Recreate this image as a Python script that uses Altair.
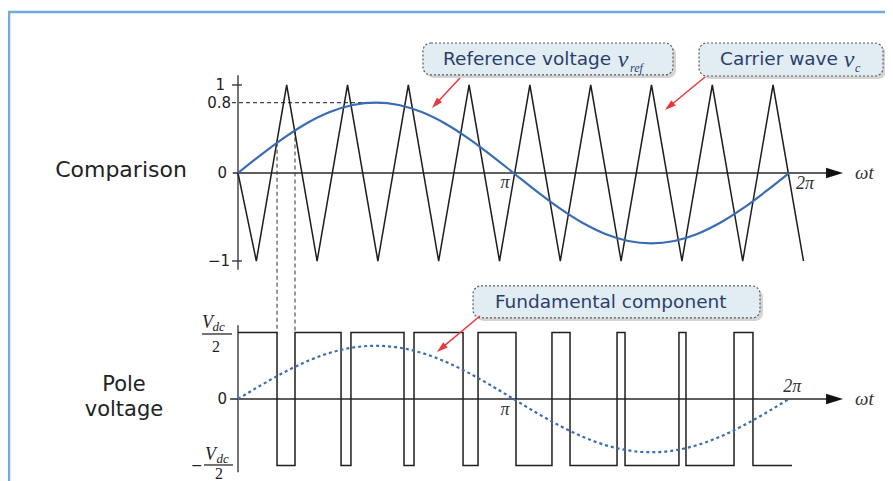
import math
import altair as alt
import pandas as pd

# ---------------- values ----------------
# carrier wave vertices: omega*t (rad) and value (p.u.)
carrier_t = [0.0, 0.209, 0.555, 0.902, 1.249, 1.595, 1.942, 2.288, 2.635, 2.982,
             3.328, 3.675, 4.022, 4.368, 4.715, 5.062, 5.408, 5.755, 6.101, 6.448]
carrier_v = [0, -1, 1, -1, 1, -1, 1, -1, 1, -1, 1, -1, 1, -1, 1, -1, 1, -1, 1, -1]

# reference voltage samples (p.u.)
ref_t = [0.0, 0.262, 0.524, 0.785, 1.047, 1.309, 1.571, 1.833, 2.094, 2.356, 2.618,
         2.880, 3.142, 3.403, 3.665, 3.927, 4.189, 4.451, 4.712, 4.974, 5.236,
         5.498, 5.760, 6.021, 6.283]
ref_v = [0.0, 0.207, 0.4, 0.566, 0.693, 0.773, 0.8, 0.773, 0.693, 0.566, 0.4,
         0.207, 0.0, -0.207, -0.4, -0.566, -0.693, -0.773, -0.8, -0.773, -0.693,
         -0.566, -0.4, -0.207, 0.0]

# pole voltage switching instants (rad) and levels (in Vdc/2)
pole_t = [0.0, 0.445, 0.650, 1.175, 1.288, 1.893, 2.007, 2.566, 2.737, 3.170,
          3.580, 3.786, 4.322, 4.413, 5.028, 5.108, 5.656, 5.872, 6.317]
pole_v = [1, -1, 1, -1, 1, -1, 1, -1, 1, -1, 1, -1, 1, -1, 1, -1, 1, -1, -1]

# fundamental component of the pole voltage (in Vdc/2)
fund_v = [0.0, 0.207, 0.4, 0.566, 0.693, 0.773, 0.8, 0.773, 0.693, 0.566, 0.4,
          0.207, 0.0, -0.207, -0.4, -0.566, -0.693, -0.773, -0.8, -0.773, -0.693,
          -0.566, -0.4, -0.207, 0.0]

# first two crossings of reference and carrier (projected to the pole voltage)
cross_t = [0.445, 0.650]
cross_v = [0.344, 0.484]

# ---------------- layout (shared diagram scale) ----------------
W, H = 877, 473
XMIN, XMAX = -2.6226, 7.3774          # omega*t axis
YMIN, YMAX = -3.5, 1.875              # upper panel units
PXX = W / (XMAX - XMIN)
PXY = H / (YMAX - YMIN)
BOT_OFF, BOT_GAIN = -2.568, 0.756     # lower panel placement


def low(b):
    return BOT_OFF + BOT_GAIN * b


xs = alt.Scale(domain=[XMIN, XMAX], nice=False, zero=False)
ys = alt.Scale(domain=[YMIN, YMAX], nice=False, zero=False)
X = alt.X("x:Q", scale=xs, axis=None)
Y = alt.Y("y:Q", scale=ys, axis=None)
X2 = alt.X2("x2:Q")
Y2 = alt.Y2("y2:Q")

layers = []


def rules(rows, **props):
    df = pd.DataFrame(rows, columns=["x", "y", "x2", "y2"])
    return alt.Chart(df).mark_rule(**props).encode(x=X, y=Y, x2=X2, y2=Y2)


def texts(rows, **props):
    df = pd.DataFrame(rows, columns=["x", "y", "text"])
    return alt.Chart(df).mark_text(**props).encode(x=X, y=Y, text="text:N")


# frame of the figure
layers.append(rules([[XMIN, 1.830, XMAX, 1.830], [-2.611, 1.830, -2.611, YMIN]],
                    color="#74a9dc", strokeWidth=2.5))

# axes
axis_rows = [
    [-0.06, 0, 6.75, 0], [0, -1.10, 0, 1.11],
    [-0.068, 1, 0.045, 1], [-0.068, -1, 0.045, -1],
    [-0.09, low(0), 6.75, low(0)], [0, low(-1.10), 0, low(1.11)],
    [-0.410, low(0.977), -0.068, low(0.977)], [-0.388, low(-0.992), -0.057, low(-0.992)],
]
layers.append(rules(axis_rows, color="#2a2a2a", strokeWidth=1.3))

# dashed guide lines
dash_rows = [[-0.068, 0.8, 1.571, 0.8]]
for t, v in zip(cross_t, cross_v):
    dash_rows.append([t, v, t, low(1)])
layers.append(rules(dash_rows, color="#444444", strokeWidth=1.1, strokeDash=[4, 3]))

# carrier wave
car_df = pd.DataFrame({"x": carrier_t, "y": carrier_v, "o": range(len(carrier_t))})
layers.append(alt.Chart(car_df).mark_line(color="#1e1e1e", strokeWidth=1.5)
              .encode(x=X, y=Y, order="o:Q"))

# reference voltage
ref_df = pd.DataFrame({"x": ref_t, "y": ref_v, "o": range(len(ref_t))})
layers.append(alt.Chart(ref_df).mark_line(color="#3a6cb3", strokeWidth=2.2,
                                          interpolate="monotone")
              .encode(x=X, y=Y, order="o:Q"))

# pole voltage
pole_df = pd.DataFrame({"x": pole_t, "y": [low(v) for v in pole_v],
                        "o": range(len(pole_t))})
layers.append(alt.Chart(pole_df).mark_line(color="#1e1e1e", strokeWidth=1.5,
                                           interpolate="step-after")
              .encode(x=X, y=Y, order="o:Q"))

# fundamental component
fund_df = pd.DataFrame({"x": ref_t, "y": [low(v) for v in fund_v], "o": range(len(ref_t))})
layers.append(alt.Chart(fund_df).mark_line(color="#3a6cb3", strokeWidth=2.2,
                                           strokeDash=[3, 3], interpolate="monotone")
              .encode(x=X, y=Y, order="o:Q"))

# callout boxes (shadow + box)
boxes = [
    [2.109, 1.114, 4.960, 1.477],
    [5.257, 1.102, 7.355, 1.477],
    [2.680, low(1.218), 5.952, low(1.699)],
]
shadow = [[b[0] + 3 / PXX, b[1] - 3 / PXY, b[2] + 3 / PXX, b[3] - 3 / PXY] for b in boxes]
layers.append(alt.Chart(pd.DataFrame(shadow, columns=["x", "y", "x2", "y2"]))
              .mark_rect(color="#c9c9c9", cornerRadius=8, opacity=0.8)
              .encode(x=X, y=Y, x2=X2, y2=Y2))
layers.append(alt.Chart(pd.DataFrame(boxes, columns=["x", "y", "x2", "y2"]))
              .mark_rect(fill="#e1edf3", stroke="#5a5a5a", strokeWidth=1.2,
                         strokeDash=[2, 2], cornerRadius=8)
              .encode(x=X, y=Y, x2=X2, y2=Y2))

# red callout arrows
arrows = [
    [2.531, 1.080, 2.212, 0.739],
    [5.325, 1.091, 4.869, 0.716],
    [2.759, low(1.248), 2.269, low(0.707)],
]
HEAD = 11
shaft_rows, head_rows = [], []
for x0, y0, x1, y1 in arrows:
    dx, dy = (x1 - x0) * PXX, -(y1 - y0) * PXY
    L = math.hypot(dx, dy)
    ux, uy = dx / L, dy / L
    ang = math.degrees(math.atan2(ux, -uy)) % 360
    cx = x1 - ux * HEAD / 2 / PXX
    cy = y1 + uy * HEAD / 2 / PXY
    shaft_rows.append([x0, y0, cx, cy])
    head_rows.append({"x": cx, "y": cy, "angle": ang, "size": HEAD ** 2, "c": "#e8383d"})
# axis arrow heads
head_rows.append({"x": 6.802, "y": 0, "angle": 90, "size": 17 ** 2, "c": "#111111"})
head_rows.append({"x": 6.802, "y": low(0), "angle": 90, "size": 17 ** 2, "c": "#111111"})
layers.append(rules(shaft_rows, color="#e8383d", strokeWidth=1.5))
layers.append(alt.Chart(pd.DataFrame(head_rows))
              .mark_point(shape="M0,-1L0.62,1L-0.62,1Z", filled=True, opacity=1,
                          strokeWidth=0)
              .encode(x=X, y=Y, angle=alt.Angle("angle:Q", scale=None),
                      size=alt.Size("size:Q", scale=None),
                      color=alt.Color("c:N", scale=None)))

SANS = "DejaVu Sans"
SERIF = "Liberation Serif"

# panel names
layers.append(texts([[-1.334, 0.034, "Comparison"]], font=SANS, fontSize=22,
                    color="#222222", align="center", baseline="middle"))
layers.append(texts([[-1.30, low(0.211), "Pole"], [-1.30, low(-0.165), "voltage"]],
                    font=SANS, fontSize=21, color="#222222", align="center",
                    baseline="middle"))

# tick labels
layers.append(texts([[-0.148, 1.0, "1"], [-0.08, 0.8, "0.8"], [-0.125, 0, "0"],
                     [-0.09, -1, "−1"], [-0.125, low(0), "0"]],
                    font=SANS, fontSize=15, color="#222222", align="right",
                    baseline="middle"))

# callout texts
layers.append(texts([[2.338, 1.295, "Reference voltage"], [5.496, 1.295, "Carrier wave"],
                     [2.930, low(1.459), "Fundamental component"]],
                    font=SANS, fontSize=18.5, color="#2b3f6c", align="left",
                    baseline="middle"))
layers.append(texts([[4.39, 1.205, "v"], [6.967, 1.205, "v"]], font=SERIF, fontSize=24,
                    fontStyle="italic", color="#2b3f6c", align="center",
                    baseline="alphabetic"))
layers.append(texts([[4.47, 1.148, "ref"], [7.035, 1.148, "c"]], font=SERIF, fontSize=12,
                    fontStyle="italic", color="#2b3f6c", align="left",
                    baseline="alphabetic"))

# angle labels
layers.append(texts([[3.044, -0.114, "π"], [6.465, -0.125, "2π"],
                     [3.044, low(-0.165), "π"], [6.32, low(0.18), "2π"]],
                    font=SERIF, fontSize=18, fontStyle="italic", color="#333333",
                    align="center", baseline="middle"))
layers.append(texts([[7.035, 0, "ωt"], [7.035, low(0), "ωt"]], font=SERIF, fontSize=19,
                    fontStyle="italic", color="#333333", align="left",
                    baseline="middle"))

# Vdc/2 fractions
layers.append(texts([[-0.347, low(1.068), "V"], [-0.313, low(-0.917), "V"]], font=SERIF,
                    fontSize=18, fontStyle="italic", color="#222222", align="center",
                    baseline="alphabetic"))
layers.append(texts([[-0.290, low(1.028), "dc"], [-0.244, low(-0.957), "dc"]], font=SERIF,
                    fontSize=13, fontStyle="italic", color="#222222", align="left",
                    baseline="alphabetic"))
layers.append(texts([[-0.251, low(0.707), "2"], [-0.217, low(-1.196), "2"]], font=SERIF,
                    fontSize=16, color="#222222", align="center", baseline="alphabetic"))
layers.append(texts([[-0.468, low(-1.0), "−"]], font=SANS, fontSize=14, color="#222222",
                    align="center", baseline="middle"))

chart = alt.layer(*layers).properties(
    width=W, height=H, autosize=alt.AutoSizeParams(type="none"), padding=0,
    background="white"
).configure_view(stroke=None)

chart.save("out.html", embed_options={"renderer": "svg", "actions": False})
